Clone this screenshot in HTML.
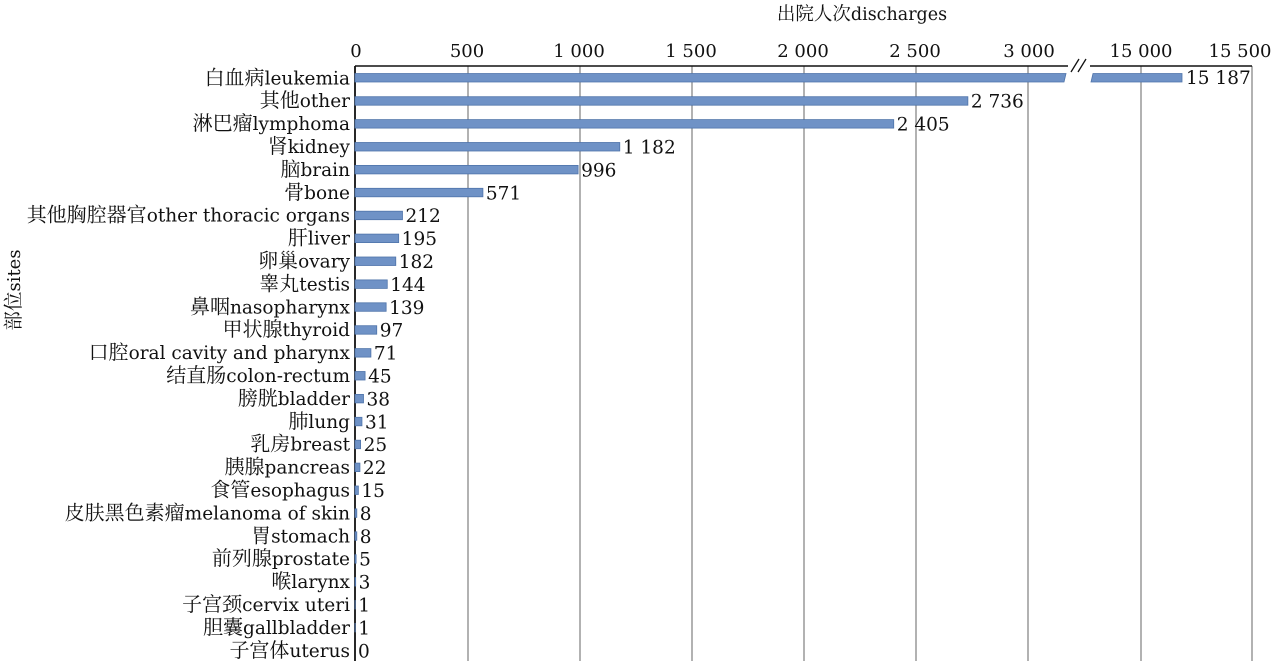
<!DOCTYPE html>
<html><head><meta charset="utf-8"><style>
html,body{margin:0;padding:0;background:#fff;}
svg{display:block;}
text{font-family:"DejaVu Serif","Noto Serif CJK SC",serif;fill:#111;}
</style></head><body>
<svg width="1273" height="661" viewBox="0 0 1273 661">
<text x="862" y="20" font-size="17.5" text-anchor="middle"><tspan font-size="18.5">出院人次</tspan>discharges</text>
<text transform="translate(20,290) rotate(-90)" font-size="18" text-anchor="middle"><tspan font-size="19.5">部位</tspan>sites</text>
<g font-size="18" text-anchor="middle">
<text x="356" y="57">0</text><text x="467" y="57">500</text><text x="579" y="57">1 000</text>
<text x="691" y="57">1 500</text><text x="803" y="57">2 000</text><text x="915" y="57">2 500</text>
<text x="1029" y="57">3 000</text><text x="1141" y="57">15 000</text><text x="1240" y="57">15 500</text>
</g>
<g stroke="#888" stroke-width="1.3">
<line x1="468" y1="66" x2="468" y2="661"/><line x1="580" y1="66" x2="580" y2="661"/>
<line x1="692" y1="66" x2="692" y2="661"/><line x1="804" y1="66" x2="804" y2="661"/>
<line x1="916" y1="66" x2="916" y2="661"/><line x1="1028" y1="66" x2="1028" y2="661"/>
<line x1="1141" y1="66" x2="1141" y2="661"/><line x1="1252" y1="66" x2="1252" y2="661"/>
</g>
<line x1="355" y1="66" x2="1252" y2="66" stroke="#111" stroke-width="1.5"/>
<line x1="355" y1="66" x2="355" y2="661" stroke="#111" stroke-width="1.8"/>
<rect x="1068" y="58" width="22" height="14" fill="#fff"/>
<line x1="1071" y1="72" x2="1079" y2="59" stroke="#111" stroke-width="1.3"/>
<line x1="1078" y1="72" x2="1086" y2="59" stroke="#111" stroke-width="1.3"/>
<g fill="#6f92c6" stroke="#4f74aa" stroke-width="0.8">
<polygon points="355,73.5 1066,73.5 1064,82 355,82"/>
<polygon points="1093,73.5 1182,73.5 1182,82 1091,82"/>
</g>
<g id="bars" fill="#6f92c6" stroke="#4f74aa" stroke-width="0.8"></g>
<g id="labs" font-size="18.5" text-anchor="end"></g>
<g id="vals" font-size="18.5"></g>
<text x="1186" y="84" font-size="18.5">15 187</text>
<script>
var d=[["白血病","leukemia",15187],["其他","other",2736],["淋巴瘤","lymphoma",2405],["肾","kidney",1182],["脑","brain",996],["骨","bone",571],["其他胸腔器官","other thoracic organs",212],["肝","liver",195],["卵巢","ovary",182],["睾丸","testis",144],["鼻咽","nasopharynx",139],["甲状腺","thyroid",97],["口腔","oral cavity and pharynx",71],["结直肠","colon-rectum",45],["膀胱","bladder",38],["肺","lung",31],["乳房","breast",25],["胰腺","pancreas",22],["食管","esophagus",15],["皮肤黑色素瘤","melanoma of skin",8],["胃","stomach",8],["前列腺","prostate",5],["喉","larynx",3],["子宫颈","cervix uteri",1],["胆囊","gallbladder",1],["子宫体","uterus",0]];
var ns="http://www.w3.org/2000/svg",B=document.getElementById("bars"),L=document.getElementById("labs"),V=document.getElementById("vals");
function fmt(v){var s=String(v);return s.length>3?s.slice(0,-3)+" "+s.slice(-3):s;}
d.forEach(function(r,i){var cy=77.8+i*22.9;
var t=document.createElementNS(ns,"text");t.setAttribute("x",350);t.setAttribute("y",cy+6.5);
var c=document.createElementNS(ns,"tspan");c.setAttribute("font-size","20");c.textContent=r[0];t.appendChild(c);
var e=document.createElementNS(ns,"tspan");e.textContent=r[1];t.appendChild(e);L.appendChild(t);
if(i==0)return;
var w=r[2]*0.224;
if(w>0){var b=document.createElementNS(ns,"rect");b.setAttribute("x",355);b.setAttribute("y",cy-4);b.setAttribute("width",w);b.setAttribute("height",8.5);B.appendChild(b);}
var v=document.createElementNS(ns,"text");v.setAttribute("x",355+w+3);v.setAttribute("y",cy+7);v.textContent=fmt(r[2]);V.appendChild(v);});
</script>
</svg>
</body></html>
